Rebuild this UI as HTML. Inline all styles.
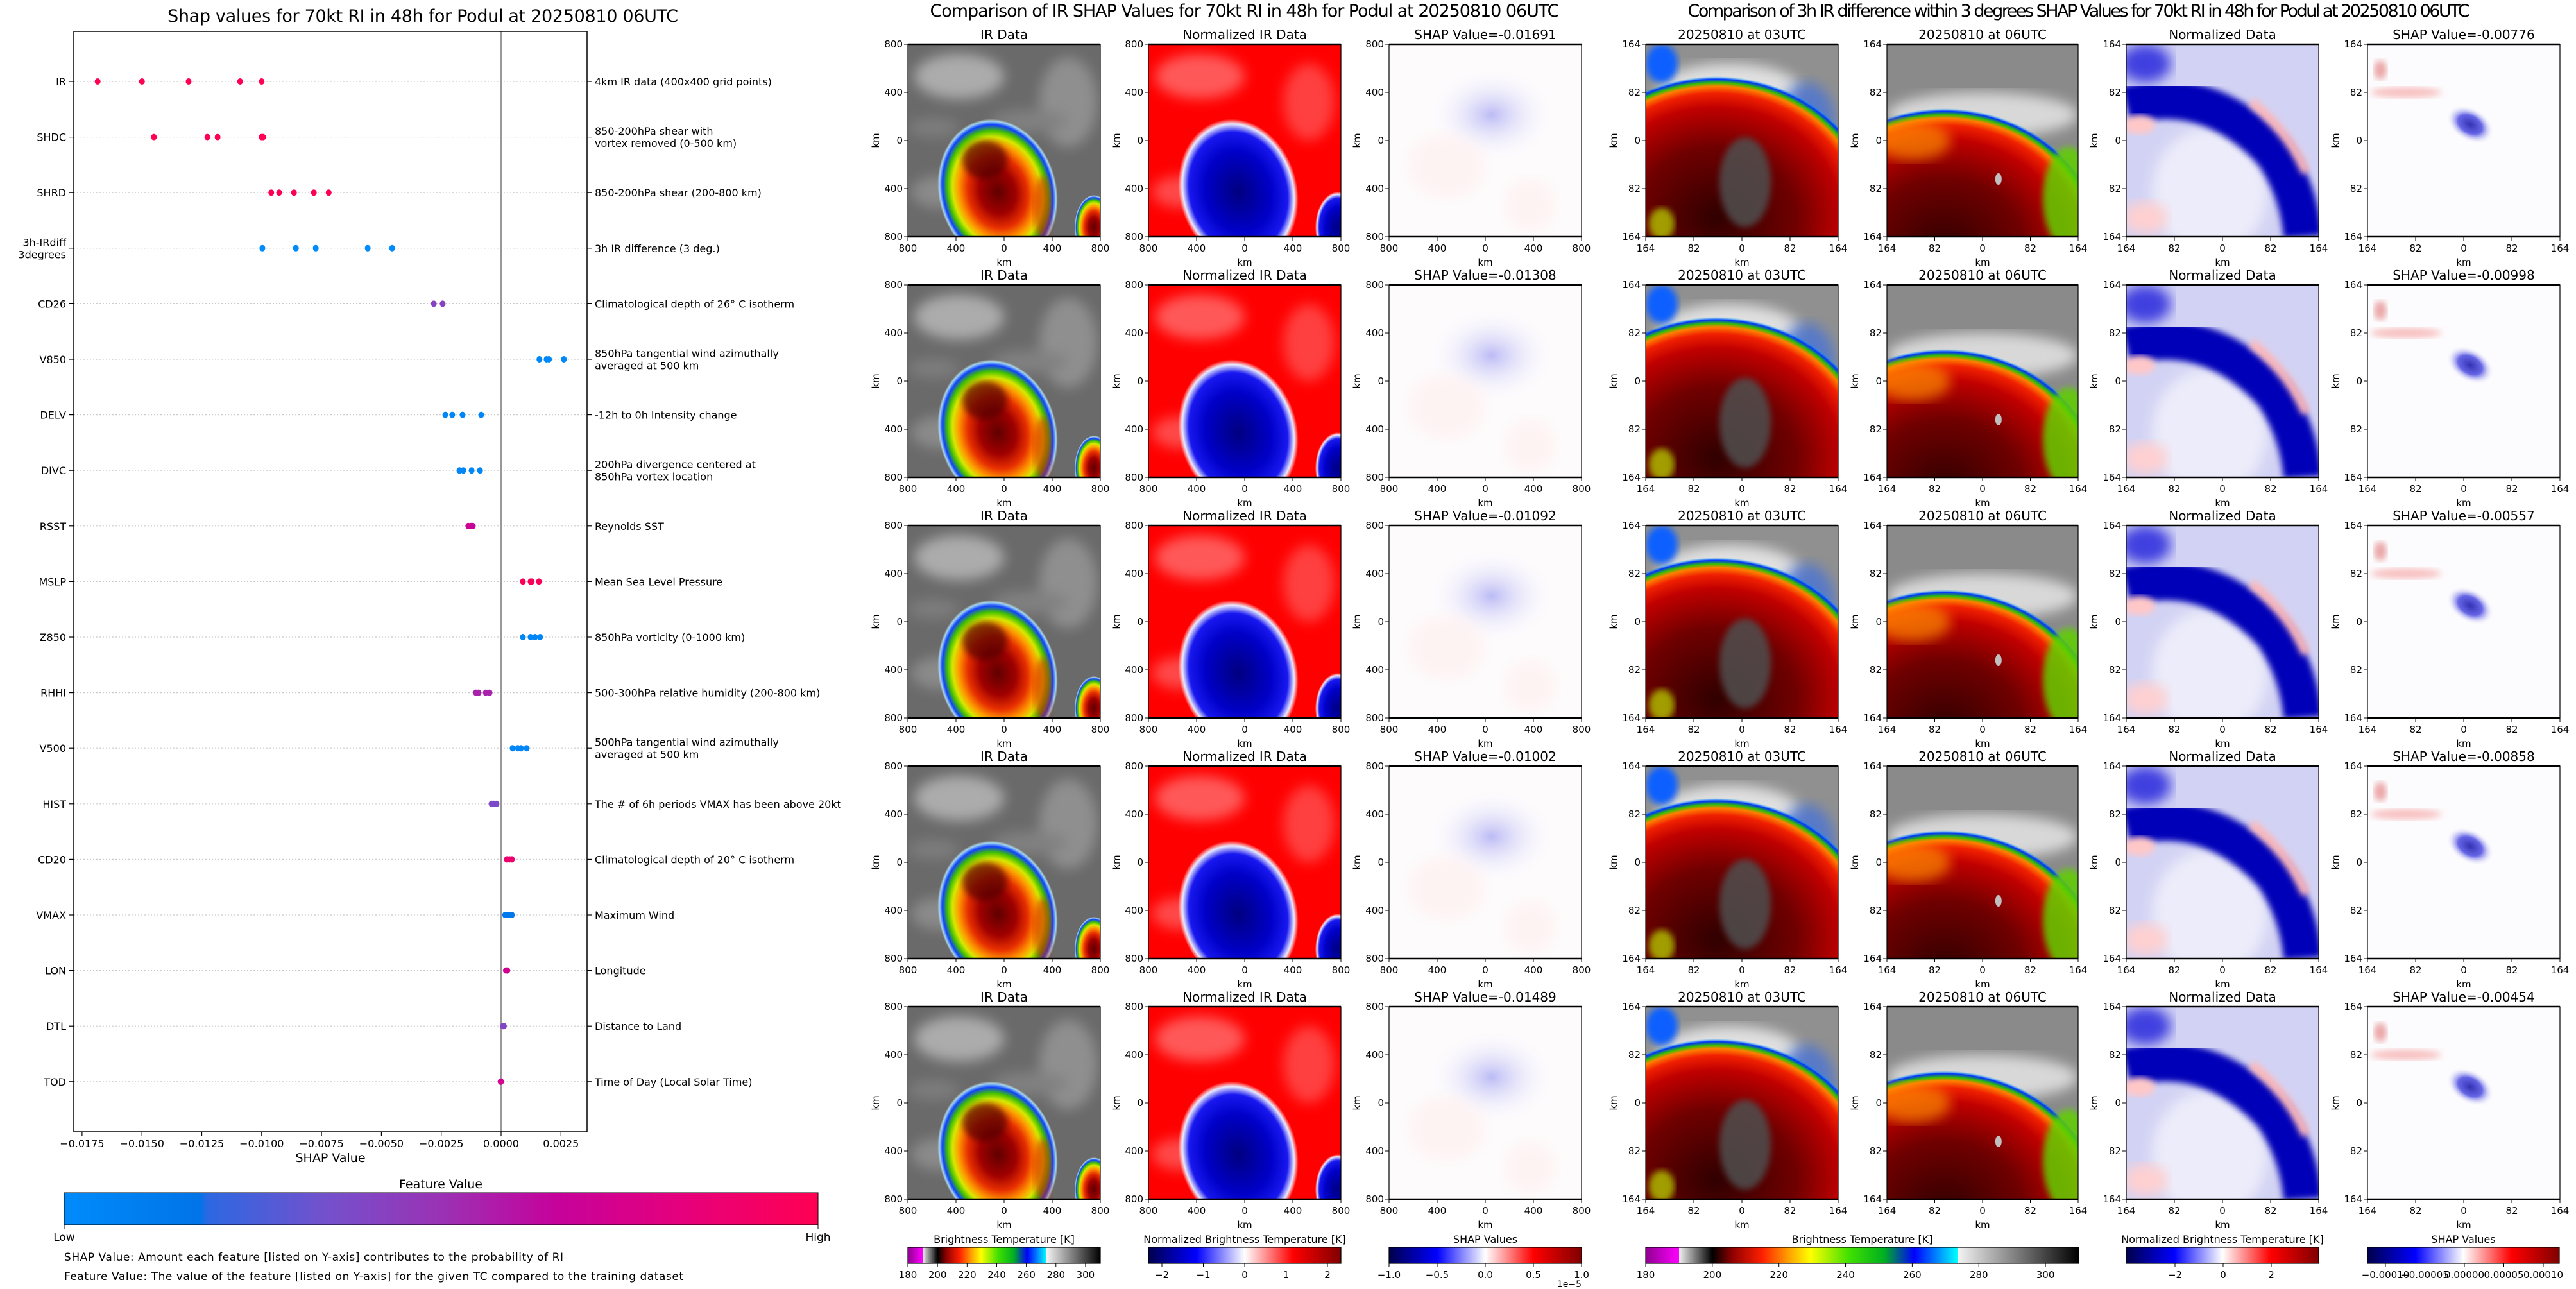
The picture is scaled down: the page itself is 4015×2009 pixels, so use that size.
<!DOCTYPE html>
<html><head><meta charset="utf-8">
<style>
html,body{margin:0;padding:0;background:#fff;}
svg{display:block;font-family:"DejaVu Sans","Liberation Sans",sans-serif;}
</style></head>
<body>
<svg id="root" width="4015" height="2009" viewBox="0 0 4015 2009" xmlns="http://www.w3.org/2000/svg">
<defs>
  <filter id="bl" x="-10%" y="-10%" width="120%" height="120%"><feGaussianBlur stdDeviation="5"/></filter>
  <filter id="bl2" x="-10%" y="-10%" width="120%" height="120%"><feGaussianBlur stdDeviation="10"/></filter>
  <linearGradient id="fvGrad" x1="0" x2="1" y1="0" y2="0">
    <stop offset="0" stop-color="#008bfb"/><stop offset="0.18" stop-color="#0074e8"/>
    <stop offset="0.19" stop-color="#2c68e2"/><stop offset="0.35" stop-color="#7550cc"/>
    <stop offset="0.5" stop-color="#9a32b4"/><stop offset="0.65" stop-color="#c5029c"/>
    <stop offset="0.82" stop-color="#e6007c"/><stop offset="1" stop-color="#ff0052"/>
  </linearGradient>
  <linearGradient id="btGrad" x1="0" x2="1">
    <stop offset="0" stop-color="#900090"/><stop offset="0.077" stop-color="#ff00ff"/>
    <stop offset="0.077" stop-color="#f0f0f0"/><stop offset="0.154" stop-color="#000"/>
    <stop offset="0.2" stop-color="#900000"/><stop offset="0.27" stop-color="#ff2000"/>
    <stop offset="0.33" stop-color="#ffa000"/><stop offset="0.38" stop-color="#ffff00"/>
    <stop offset="0.47" stop-color="#40e000"/><stop offset="0.55" stop-color="#00b020"/>
    <stop offset="0.62" stop-color="#0000ff"/><stop offset="0.72" stop-color="#00ffff"/>
    <stop offset="0.72" stop-color="#f4f4f4"/><stop offset="1" stop-color="#000"/>
  </linearGradient>
  <linearGradient id="seis" x1="0" x2="1">
    <stop offset="0" stop-color="#00004c"/><stop offset="0.25" stop-color="#0000ff"/>
    <stop offset="0.5" stop-color="#ffffff"/><stop offset="0.75" stop-color="#ff0000"/>
    <stop offset="1" stop-color="#800000"/>
  </linearGradient>
  <radialGradient id="stormG" cx="0.5" cy="0.5" r="0.5">
    <stop offset="0" stop-color="#600000"/><stop offset="0.3" stop-color="#a00000"/>
    <stop offset="0.5" stop-color="#e83000"/><stop offset="0.65" stop-color="#ff9a00"/>
    <stop offset="0.75" stop-color="#d8e800"/><stop offset="0.84" stop-color="#40c000"/>
    <stop offset="0.92" stop-color="#1040ff"/><stop offset="0.97" stop-color="#a0d8f0"/>
    <stop offset="1" stop-color="#d0d0d0" stop-opacity="0"/>
  </radialGradient>
  <radialGradient id="normStormG" cx="0.5" cy="0.5" r="0.5">
    <stop offset="0" stop-color="#000080"/><stop offset="0.55" stop-color="#0000c8"/>
    <stop offset="0.82" stop-color="#1818f0"/><stop offset="0.93" stop-color="#e8e8ff"/>
    <stop offset="1" stop-color="#ffffff" stop-opacity="0"/>
  </radialGradient>
  <radialGradient id="bigRed" cx="0.5" cy="0.5" r="0.5">
    <stop offset="0" stop-color="#300000"/><stop offset="0.5" stop-color="#700000"/>
    <stop offset="0.78" stop-color="#c00000"/><stop offset="0.88" stop-color="#f02000"/>
    <stop offset="0.93" stop-color="#ff8000"/><stop offset="0.955" stop-color="#30c000"/>
    <stop offset="0.98" stop-color="#0030ff"/><stop offset="1" stop-color="#00c0ff" stop-opacity="0"/>
  </radialGradient>
  <radialGradient id="blueBlob" cx="0.5" cy="0.5" r="0.5">
    <stop offset="0" stop-color="#9090f0"/><stop offset="1" stop-color="#ffffff" stop-opacity="0"/>
  </radialGradient>
  <radialGradient id="blueBlobD" cx="0.5" cy="0.5" r="0.5">
    <stop offset="0" stop-color="#0000a0"/><stop offset="0.5" stop-color="#4040e0"/><stop offset="1" stop-color="#ffffff" stop-opacity="0"/>
  </radialGradient>

  <symbol id="irImg" viewBox="0 0 300 300" preserveAspectRatio="none">
    <rect width="300" height="300" fill="#6a6a6a"/>
    <g filter="url(#bl2)" opacity="0.6">
      <ellipse cx="80" cy="50" rx="70" ry="35" fill="#d8d8d8"/>
      <ellipse cx="250" cy="90" rx="45" ry="70" fill="#a8a8a8"/>
      <ellipse cx="50" cy="230" rx="45" ry="25" fill="#a0a0a0"/>
      <ellipse cx="190" cy="120" rx="60" ry="18" fill="#909090"/>
      <ellipse cx="40" cy="130" rx="40" ry="15" fill="#8a8a8a"/>
    </g>
    <ellipse cx="290" cy="285" rx="30" ry="50" fill="url(#stormG)"/>
    <ellipse cx="140" cy="230" rx="92" ry="115" fill="url(#stormG)" transform="rotate(-15 140 230)"/>
    <ellipse cx="120" cy="180" rx="35" ry="30" fill="#500000" opacity="0.7" filter="url(#bl)"/>
    <ellipse cx="210" cy="255" rx="14" ry="50" fill="#d02000" opacity="0.6" filter="url(#bl)"/>
  </symbol>
  <symbol id="normImg" viewBox="0 0 300 300" preserveAspectRatio="none">
    <rect width="300" height="300" fill="#ff0000"/>
    <g filter="url(#bl2)" opacity="0.5">
      <ellipse cx="80" cy="50" rx="70" ry="35" fill="#ffb0b0"/>
      <ellipse cx="50" cy="230" rx="45" ry="25" fill="#ff9090"/>
      <ellipse cx="250" cy="90" rx="40" ry="60" fill="#ff8080"/>
    </g>
    <ellipse cx="295" cy="285" rx="35" ry="55" fill="url(#normStormG)"/>
    <ellipse cx="140" cy="230" rx="92" ry="115" fill="url(#normStormG)" transform="rotate(-15 140 230)"/>
  </symbol>
  <symbol id="shapImg" viewBox="0 0 300 300" preserveAspectRatio="none">
    <rect width="300" height="300" fill="#fdfbfc"/>
    <ellipse cx="160" cy="110" rx="100" ry="75" fill="url(#blueBlob)" opacity="0.6"/>
    <ellipse cx="90" cy="190" rx="60" ry="50" fill="#fff0f0" filter="url(#bl2)" opacity="0.7"/>
    <ellipse cx="220" cy="250" rx="40" ry="40" fill="#fff0f0" filter="url(#bl2)" opacity="0.7"/>
  </symbol>
  <symbol id="t03Img" viewBox="0 0 300 300" preserveAspectRatio="none">
    <rect width="300" height="300" fill="#909090"/>
    <ellipse cx="130" cy="70" rx="110" ry="40" fill="#e0e0e0" filter="url(#bl2)"/>
    <ellipse cx="25" cy="30" rx="25" ry="30" fill="#1060ff" filter="url(#bl)"/>
    <ellipse cx="250" cy="120" rx="45" ry="60" fill="#4070e0" filter="url(#bl2)" opacity="0.7"/>
    <ellipse cx="110" cy="270" rx="250" ry="220" fill="url(#bigRed)"/>
    <ellipse cx="155" cy="215" rx="40" ry="70" fill="#505050" filter="url(#bl)" opacity="0.85"/>
    <ellipse cx="25" cy="280" rx="20" ry="25" fill="#c0e000" filter="url(#bl)" opacity="0.7"/>
  </symbol>
  <symbol id="t06Img" viewBox="0 0 300 300" preserveAspectRatio="none">
    <rect width="300" height="300" fill="#8a8a8a"/>
    <ellipse cx="150" cy="110" rx="150" ry="35" fill="#d8d8d8" filter="url(#bl2)"/>
    <ellipse cx="90" cy="320" rx="250" ry="220" fill="url(#bigRed)"/>
    <ellipse cx="40" cy="150" rx="60" ry="30" fill="#ff9000" filter="url(#bl2)" opacity="0.7"/>
    <ellipse cx="285" cy="240" rx="40" ry="80" fill="#60d000" filter="url(#bl)" opacity="0.85"/>
    <ellipse cx="175" cy="210" rx="5" ry="9" fill="#c0c0c0"/>
  </symbol>
  <symbol id="ndImg" viewBox="0 0 300 300" preserveAspectRatio="none">
    <rect width="300" height="300" fill="#d2d2f4"/>
    <ellipse cx="130" cy="230" rx="90" ry="100" fill="#ececfa" filter="url(#bl2)"/>
    <ellipse cx="30" cy="30" rx="40" ry="30" fill="#4040e0" filter="url(#bl2)"/>
    <path d="M0 95 Q130 60 230 170 Q270 230 275 300" stroke="#0000b8" stroke-width="60" fill="none" filter="url(#bl)"/>
    <path d="M195 90 Q255 140 280 200" stroke="#ffb8b8" stroke-width="14" fill="none" filter="url(#bl)"/>
    <ellipse cx="30" cy="270" rx="35" ry="25" fill="#ffd0d0" filter="url(#bl2)"/>
    <ellipse cx="20" cy="125" rx="25" ry="15" fill="#ffc8c8" filter="url(#bl)"/>
  </symbol>
  <symbol id="sdImg" viewBox="0 0 300 300" preserveAspectRatio="none">
    <rect width="300" height="300" fill="#fcfbfd"/>
    <ellipse cx="160" cy="125" rx="40" ry="26" fill="url(#blueBlobD)" opacity="0.8" transform="rotate(30 160 125)"/>
    <ellipse cx="60" cy="75" rx="55" ry="8" fill="#f8c0c0" filter="url(#bl)"/>
    <ellipse cx="20" cy="40" rx="10" ry="15" fill="#e07070" filter="url(#bl)" opacity="0.6"/>
  </symbol>
</defs>

<!-- ================= LEFT SHAP SUMMARY ================= -->
<g id="leftChart">
  <text x="659" y="34" text-anchor="middle" font-size="27" textLength="796">Shap values for 70kt RI in 48h for Podul at 20250810 06UTC</text>
  <g id="rowGrid"></g>
  <line x1="781" y1="49" x2="781" y2="1764" stroke="#999" stroke-width="3"/>
  <rect x="115" y="49" width="800" height="1715" fill="none" stroke="#000" stroke-width="1.5"/>
  <g id="dots"></g>
  <g id="xTicks"></g>
  <text x="515" y="1811" text-anchor="middle" font-size="19">SHAP Value</text>
  <text x="687" y="1852" text-anchor="middle" font-size="19">Feature Value</text>
  <rect x="100" y="1859" width="1175" height="50" fill="url(#fvGrad)" stroke="#000" stroke-width="1"/>
  <line x1="100" y1="1909" x2="100" y2="1915" stroke="#000"/>
  <line x1="1275" y1="1909" x2="1275" y2="1915" stroke="#000"/>
  <text x="100" y="1934" text-anchor="middle" font-size="17">Low</text>
  <text x="1275" y="1934" text-anchor="middle" font-size="17">High</text>
  <text x="100" y="1965" font-size="17" textLength="778">SHAP Value: Amount each feature [listed on Y-axis] contributes to the probability of RI</text>
  <text x="100" y="1995" font-size="17" textLength="965">Feature Value: The value of the feature [listed on Y-axis] for the given TC compared to the training dataset</text>
</g>

<!-- ================= MIDDLE + RIGHT ================= -->
<text x="1940" y="26" text-anchor="middle" font-size="27" textLength="981">Comparison of IR SHAP Values for 70kt RI in 48h for Podul at 20250810 06UTC</text>
<text x="3240" y="26" text-anchor="middle" font-size="27" textLength="1219">Comparison of 3h IR difference within 3 degrees SHAP Values for 70kt RI in 48h for Podul at 20250810 06UTC</text>
<g id="panels"></g>
<g id="cbars"></g>
</svg>

<script>
// ---------- Left SHAP chart data ----------
const features = ["IR","SHDC","SHRD","3h-IRdiff|3degrees","CD26","V850","DELV","DIVC","RSST","MSLP","Z850","RHHI","V500","HIST","CD20","VMAX","LON","DTL","TOD"];
const descriptions = ["4km IR data (400x400 grid points)","850-200hPa shear with|vortex removed (0-500 km)","850-200hPa shear (200-800 km)","3h IR difference (3 deg.)","Climatological depth of 26° C isotherm","850hPa tangential wind azimuthally|averaged at 500 km","-12h to 0h Intensity change","200hPa divergence centered at|850hPa vortex location","Reynolds SST","Mean Sea Level Pressure","850hPa vorticity (0-1000 km)","500-300hPa relative humidity (200-800 km)","500hPa tangential wind azimuthally|averaged at 500 km","The # of 6h periods VMAX has been above 20kt","Climatological depth of 20° C isotherm","Maximum Wind","Longitude","Distance to Land","Time of Day (Local Solar Time)"];
const shapValues = [
  [-0.01685,-0.0150,-0.01305,-0.0109,-0.0100],
  [-0.0145,-0.01227,-0.01184,-0.01000,-0.00994],
  [-0.0096,-0.00927,-0.00865,-0.00782,-0.0072],
  [-0.00997,-0.00857,-0.00774,-0.00557,-0.00455],
  [-0.00281,-0.00244],
  [0.0016,0.0019,0.0020,0.00262],
  [-0.00233,-0.00204,-0.00161,-0.00083],
  [-0.00174,-0.00158,-0.00123,-0.00088],
  [-0.00137,-0.00125,-0.00118],
  [0.00091,0.00123,0.00128,0.00158],
  [0.00091,0.00123,0.00142,0.00163],
  [-0.00105,-0.00094,-0.00064,-0.00048],
  [0.00048,0.0007,0.00083,0.00107],
  [-0.0004,-0.0003,-0.00019],
  [0.00024,0.00035,0.00045],
  [0.00017,0.0003,0.00045],
  [0.0002,0.00026],
  [0.00008,0.00012],
  [-0.00002,0.0]
];
const featureValues = [1.0,1.0,0.98,0.0,0.42,0.02,0.04,0.04,0.68,0.97,0.04,0.55,0.04,0.38,0.88,0.16,0.7,0.4,0.72];
const xTickVals = [-0.0175,-0.015,-0.0125,-0.01,-0.0075,-0.005,-0.0025,0,0.0025];
const xTickLabels = ["\u22120.0175","\u22120.0150","\u22120.0125","\u22120.0100","\u22120.0075","\u22120.0050","\u22120.0025","0.0000","0.0025"];

const NS="http://www.w3.org/2000/svg";
function mk(tag, attrs, parent){const e=document.createElementNS(NS,tag);for(const k in attrs)e.setAttribute(k,attrs[k]);if(parent)parent.appendChild(e);return e;}
const xScale = v => 781 + v*37320;
const yRow = i => 127 + i*86.6;
function cmap(t){
  const st=[[0,[0,139,251]],[0.18,[0,116,232]],[0.19,[44,104,226]],[0.35,[117,80,204]],[0.5,[154,50,180]],[0.65,[197,2,156]],[0.82,[230,0,124]],[1,[255,0,82]]];
  for(let i=1;i<st.length;i++){if(t<=st[i][0]){const a=st[i-1],b=st[i];const f=(t-a[0])/(b[0]-a[0]||1);
    return "rgb("+a[1].map((c,j)=>Math.round(c+(b[1][j]-c)*f)).join(",")+")";}}
  return "rgb(255,0,82)";
}
const grid=document.getElementById('rowGrid'), dots=document.getElementById('dots'), lc=document.getElementById('leftChart');
features.forEach((f,i)=>{
  const y=yRow(i);
  const gl=mk('line',{x1:115,x2:915,y1:y,y2:y,stroke:'#ccc','stroke-width':1.2,'stroke-dasharray':'2 3'},grid);
  
  
  mk('line',{x1:108,x2:115,y1:y,y2:y,stroke:'#000','stroke-width':1.2},lc);
  mk('line',{x1:915,x2:922,y1:y,y2:y,stroke:'#000','stroke-width':1.2},lc);
  const parts=f.split('|');
  const t=mk('text',{x:103,'text-anchor':'end','font-size':16},lc);
  
  
  parts.forEach((p,k)=>{const ts=mk('tspan',{x:103,y:y+6+(k-(parts.length-1)/2)*19},t);ts.textContent=p;});
  const dp=descriptions[i].split('|');
  const d=mk('text',{x:927,'text-anchor':'start','font-size':16},lc);
  
  
  dp.forEach((p,k)=>{const ts=mk('tspan',{x:927,y:y+6+(k-(dp.length-1)/2)*19},d);ts.textContent=p;});
  shapValues[i].forEach(v=>{
    const c=mk('ellipse',{cx:xScale(v),cy:y,rx:4.5,ry:5,fill:cmap(featureValues[i])},dots);
    
    
  });
});
const xt=document.getElementById('xTicks');
xTickVals.forEach((v,i)=>{
  const x=xScale(v);
  mk('line',{x1:x,x2:x,y1:1764,y2:1771,stroke:'#000','stroke-width':1.2},xt);
  const t=mk('text',{x:x,y:1788,'text-anchor':'middle','font-size':16},xt);
  
  
  t.textContent=xTickLabels[i];
});

// ---------- Panels ----------
const irShap = ["-0.01691","-0.01308","-0.01092","-0.01002","-0.01489"];
const diffShap = ["-0.00776","-0.00998","-0.00557","-0.00858","-0.00454"];
const rowTops = [69,444,819,1194,1569];
const midCols = [{x:1415,img:'irImg',title:'IR Data',name:'ir-data-panel'},{x:1790,img:'normImg',title:'Normalized IR Data',name:'normalized-ir-panel'},{x:2165,img:'shapImg',title:'SHAP',name:'ir-shap-panel'}];
const rightCols = [{x:2565,img:'t03Img',title:'20250810 at 03UTC',name:'ir-03utc-panel'},{x:2941,img:'t06Img',title:'20250810 at 06UTC',name:'ir-06utc-panel'},{x:3314,img:'ndImg',title:'Normalized Data',name:'normalized-diff-panel'},{x:3690,img:'sdImg',title:'SHAP',name:'diff-shap-panel'}];
const midTicks=["800","400","0","400","800"], rightTicks=["164","82","0","82","164"];
const P=document.getElementById('panels');
function panel(x,y,w,img,title,ticks,name){
  const g=mk('g',{},P);
  
  
  mk('use',{href:'#'+img,x:x,y:y,width:w,height:300},g);
  mk('rect',{x:x,y:y,width:w,height:300,fill:'none',stroke:'#000','stroke-width':1.2},g);
  mk('line',{x1:x,x2:x+w,y1:y,y2:y,stroke:'#000','stroke-width':2.5},g);
  mk('line',{x1:x,x2:x+w,y1:y+300,y2:y+300,stroke:'#000','stroke-width':2.5},g);
  const tt=mk('text',{x:x+w/2,y:y-8,'text-anchor':'middle','font-size':20},g);
  
  
  tt.textContent=title;
  for(let k=0;k<5;k++){
    const px=x+k*w/4, py=y+k*75;
    mk('line',{x1:px,x2:px,y1:y+300,y2:y+306,stroke:'#000'},g);
    const a=mk('text',{x:px,y:y+323,'text-anchor':'middle','font-size':15},g);a.textContent=ticks[k];
    mk('line',{x1:x-6,x2:x,y1:py,y2:py,stroke:'#000'},g);
    const b=mk('text',{x:x-8,y:py+5,'text-anchor':'end','font-size':15},g);b.textContent=ticks[k];
  }
  const km=mk('text',{x:x+w/2,y:y+345,'text-anchor':'middle','font-size':15},g);km.textContent='km';
  const yk=mk('text',{x:0,y:0,'text-anchor':'middle','font-size':15,transform:`translate(${x-45},${y+150}) rotate(-90)`},g);yk.textContent='km';
}
rowTops.forEach((y,r)=>{
  midCols.forEach(c=>panel(c.x,y,300,c.img,c.title==='SHAP'?'SHAP Value='+irShap[r]:c.title,midTicks,c.name));
  rightCols.forEach(c=>panel(c.x,y,c.x===2941?298:300,c.img,c.title==='SHAP'?'SHAP Value='+diffShap[r]:c.title,rightTicks,c.name));
});

// ---------- Colorbars ----------
const btTicks=[180,200,220,240,260,280,300];
const normTicksMid=[-2,-1,0,1,2];
const shapTicksMid=["\u22121.0","\u22120.5","0.0","0.5","1.0"];
const normTicksRight=[-2,0,2];
const shapTicksRight=["\u22120.00010","\u22120.00005","0.00000","0.00005","0.00010"];
const C=document.getElementById('cbars');
function cbar(x,w,grad,title,name){
  const r=mk('rect',{x:x,y:1944,width:w,height:25,fill:'url(#'+grad+')',stroke:'#000','stroke-width':1.2},C);
  
  
  const t=mk('text',{x:x+w/2,y:1937,'text-anchor':'middle','font-size':16},C);
  
  
  t.textContent=title;
}
function ctick(x,label){mk('line',{x1:x,x2:x,y1:1969,y2:1975,stroke:'#000'},C);const t=mk('text',{x:x,y:1992,'text-anchor':'middle','font-size':15},C);t.textContent=label;}
cbar(1415,300,'btGrad','Brightness Temperature [K]','bt-colorbar-ir');
btTicks.forEach(v=>ctick(1415+(v-180)*300/130,String(v)));
cbar(1790,300,'seis','Normalized Brightness Temperature [K]','norm-colorbar-ir');
normTicksMid.forEach(v=>ctick(1940+v*64.5,v<0?"\u2212"+(-v):String(v)));
cbar(2165,300,'seis','SHAP Values','shap-colorbar-ir');
shapTicksMid.forEach((l,i)=>ctick(2165+i*75,l));
const e5=mk('text',{x:2465,y:2006,'text-anchor':'end','font-size':14},C);e5.textContent='1e\u22125';
cbar(2565,675,'btGrad','Brightness Temperature [K]','bt-colorbar-diff');
btTicks.forEach(v=>ctick(2565+(v-180)*675/130,String(v)));
cbar(3314,300,'seis','Normalized Brightness Temperature [K]','norm-colorbar-diff');
normTicksRight.forEach(v=>ctick(3465+v*37.5,v<0?"\u2212"+(-v):String(v)));
cbar(3690,299,'seis','SHAP Values','shap-colorbar-diff');
shapTicksRight.forEach((l,i)=>ctick(3718+i*61.5,l));
</script>
</body></html>
